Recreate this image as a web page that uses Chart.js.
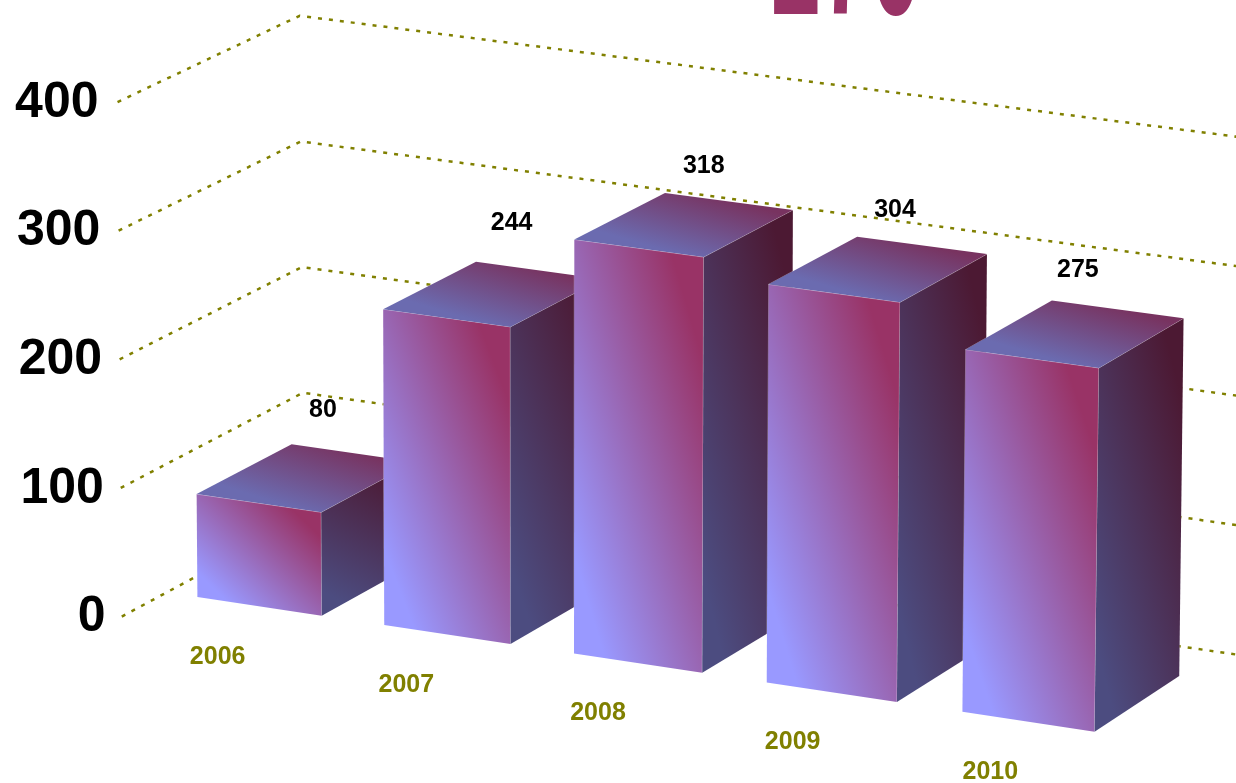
<!DOCTYPE html>
<html>
<head>
<meta charset="utf-8">
<style>
    html, body { margin: 0; padding: 0; background: #fff; overflow: hidden; }
    #bars_chart { display: block; }
</style>
<script src="https://cdn.jsdelivr.net/npm/chart.js@4"></script>
</head>
<body>
<canvas id="bars_chart" width="1236" height="783"></canvas>
<script>
const years = ['2006', '2007', '2008', '2009', '2010'];
const totals = [80, 244, 318, 304, 275];
const value_ticks = [0, 100, 200, 300, 400];
const title_text = '270';

const FONT = '"Liberation Sans", Arial, sans-serif';
const FLOOR_FRONT = -0.47;
const FLOOR_BACK = 1.44;

// the value labels do not sit evenly over the bars in the original
const label_shift_x = [0, 2, 3, 0, -14];
const label_shift_y = [-4, -7, 5, 5, 0];

// fake 3d: chart pixels (px, py) plus a depth d, bar front is d=0, bar back is d=1
function project(chart, px, py, d){
    const base_y = chart.scales.y.getPixelForValue(0);
    const h = base_y - py;
    const wx = px + 0.00004 * (px - 210) * (px - 1050);
    const depth_x = 95 - 0.0115 * (wx - 197);
    const depth_y = 51.5 + 0.0045 * (wx - 197);
    return {
        x: wx + depth_x * d + h * (wx - 540) * 0.000022,
        y: base_y + 0.15 * (wx - 197) - depth_y * d - h * (1 + 0.00003 * (wx - 260)) * (1 - 0.016 * Math.max(d, 0))
    };
}

// fill a 4 point face, gradient is given in the unit square of that face
function fillFace(ctx, p00, p10, p11, p01, grad_from, grad_to, color_from, color_to){
    ctx.save();
    ctx.beginPath();
    ctx.moveTo(p00.x, p00.y);
    ctx.lineTo(p10.x, p10.y);
    ctx.lineTo(p11.x, p11.y);
    ctx.lineTo(p01.x, p01.y);
    ctx.closePath();
    ctx.strokeStyle = 'rgba(255,255,255,0.45)';
    ctx.lineWidth = 0.8;
    ctx.stroke();
    ctx.transform(p10.x - p00.x, p10.y - p00.y, p01.x - p00.x, p01.y - p00.y, p00.x, p00.y);
    const grad = ctx.createLinearGradient(grad_from[0], grad_from[1], grad_to[0], grad_to[1]);
    grad.addColorStop(0, color_from);
    grad.addColorStop(1, color_to);
    ctx.fillStyle = grad;
    ctx.fill();
    ctx.restore();
}

function drawWalls(chart){
    const ctx = chart.ctx;
    const area = chart.chartArea;
    const y_scale = chart.scales.y;

    ctx.save();
    ctx.strokeStyle = '#808000';
    ctx.lineWidth = 2.5;
    ctx.setLineDash([4, 7]);
    y_scale.ticks.forEach(tick => {
        const py = y_scale.getPixelForValue(tick.value);
        const a = project(chart, area.left, py, FLOOR_FRONT);
        const b = project(chart, area.left, py, FLOOR_BACK);
        // wall runs off the right side of the picture
        const c = project(chart, chart.width, py, FLOOR_BACK);
        ctx.beginPath();
        ctx.moveTo(a.x, a.y);
        ctx.lineTo(b.x, b.y);
        ctx.lineTo(c.x, c.y);
        ctx.stroke();
    });
    ctx.setLineDash([]);

    ctx.fillStyle = '#000';
    ctx.font = 'bold 50px ' + FONT;
    ctx.textAlign = 'right';
    ctx.textBaseline = 'middle';
    y_scale.ticks.forEach(tick => {
        const py = y_scale.getPixelForValue(tick.value);
        const a = project(chart, area.left, py, FLOOR_FRONT);
        ctx.fillText(tick.label, a.x - 19 + (400 - tick.value) * 0.007, a.y + 1);
    });
    ctx.restore();
}

function drawBars(chart){
    const ctx = chart.ctx;
    const bars = chart.getDatasetMeta(0).data;

    bars.forEach(bar => {
        const left = bar.x - bar.width / 2;
        const right = bar.x + bar.width / 2;
        const fbl = project(chart, left, bar.base, 0);
        const fbr = project(chart, right, bar.base, 0);
        const ftl = project(chart, left, bar.y, 0);
        const ftr = project(chart, right, bar.y, 0);
        const bbr = project(chart, right, bar.base, 1);
        const btl = project(chart, left, bar.y, 1);
        const btr = project(chart, right, bar.y, 1);

        fillFace(ctx, fbl, fbr, ftr, ftl, [0.12, 0.12], [0.88, 0.88], '#9999ff', '#993366');
        fillFace(ctx, fbr, bbr, btr, ftr, [0.12, 0.12], [0.88, 0.88], '#4c4c80', '#4c1933');
        fillFace(ctx, ftl, ftr, btr, btl, [0.4, 0.1], [0.65, 1], '#6b6bb0', '#783360');
    });

    ctx.save();
    ctx.font = 'bold 25px ' + FONT;
    ctx.textAlign = 'center';
    ctx.textBaseline = 'middle';
    bars.forEach((bar, i) => {
        const top = project(chart, bar.x, bar.y, 0.5);
        ctx.fillStyle = '#000';
        ctx.fillText(totals[i], top.x + 17 + label_shift_x[i], top.y - 64 + label_shift_y[i]);

        const foot = project(chart, bar.x - bar.width / 2, bar.base, 0);
        ctx.fillStyle = '#808000';
        ctx.fillText(years[i], foot.x + 24 + (foot.x - 574) * 0.01, foot.y + 60);
    });
    ctx.restore();
}

function drawTitle(chart){
    const ctx = chart.ctx;
    ctx.save();
    ctx.fillStyle = '#993366';
    ctx.font = 'bold 90px ' + FONT;
    ctx.textAlign = 'center';
    ctx.textBaseline = 'alphabetic';
    // title is stretched tall and cut by the top edge, only its foot shows
    ctx.translate(846, 14);
    ctx.scale(1, 2);
    ctx.fillText(title_text, 0, 0);
    ctx.restore();
}

const fake3d = {
    id: 'fake3d',
    beforeDatasetsDraw(chart){
        drawTitle(chart);
        drawWalls(chart);
    },
    afterDatasetsDraw(chart){
        drawBars(chart);
    }
};

const ctx = document.getElementById('bars_chart').getContext('2d');
new Chart(ctx, {
    type: 'bar',
    data: {
        labels: years,
        datasets: [{
            data: totals,
            backgroundColor: 'transparent',
            barPercentage: 0.667,
            categoryPercentage: 1
        }]
    },
    options: {
        responsive: false,
        animation: false,
        layout: {
            padding: { left: 165, right: 111, top: 81, bottom: 186 }
        },
        plugins: {
            legend: { display: false },
            title: { display: false },
            tooltip: { enabled: false }
        },
        scales: {
            x: { display: false },
            y: {
                display: false,
                min: value_ticks[0],
                max: value_ticks[value_ticks.length - 1],
                ticks: { stepSize: 100 }
            }
        }
    },
    plugins: [fake3d]
});
</script>
</body>
</html>
